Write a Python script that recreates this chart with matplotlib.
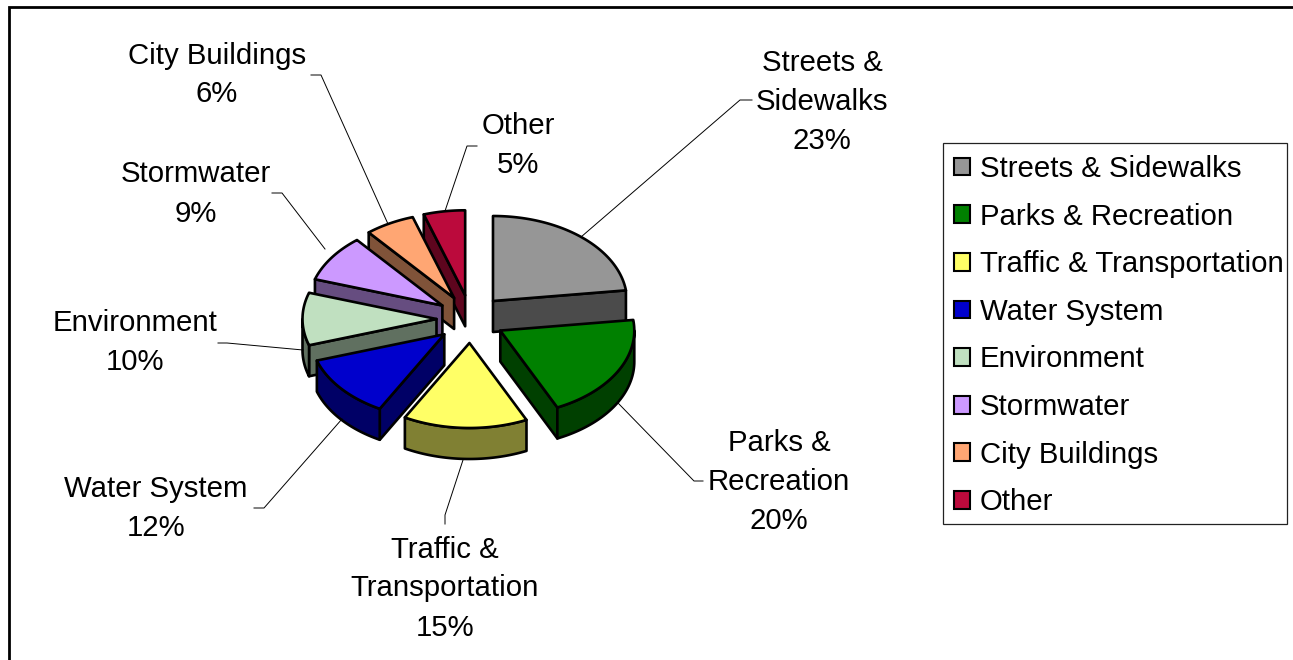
import numpy as np
import matplotlib
matplotlib.use("Agg")
import matplotlib.pyplot as plt
from matplotlib.patches import Polygon, Patch, Rectangle

plt.rcParams['font.family'] = ['Liberation Sans', 'DejaVu Sans']

categories = ["Streets & Sidewalks", "Parks & Recreation", "Traffic & Transportation",
              "Water System", "Environment", "Stormwater", "City Buildings", "Other"]
percents = [23, 20, 15, 12, 10, 9, 6, 5]
label_texts = ["Streets &\nSidewalks\n23%", "Parks &\nRecreation\n20%", "Traffic &\nTransportation\n15%",
               "Water System\n12%", "Environment\n10%", "Stormwater\n9%", "City Buildings\n6%", "Other\n5%"]
top_colors = ["#969696", "#008000", "#FFFF66", "#0000CC", "#C0E0C0", "#CC99FF", "#FFA673", "#BB0A3C"]
side_colors = ["#4B4B4B", "#004000", "#808033", "#000066", "#607060", "#664D80", "#805339", "#5E051E"]
label_pos = [(822, 102), (779, 482), (445, 588.5), (156, 508.5), (135, 342.5), (196, 194), (217, 75), (518, 145.5)]
leaders = [
    [(752, 100), (740, 100), (581, 237)],
    [(703, 481), (694, 481), (618, 403)],
    [(445, 524), (445, 515), (463, 460)],
    [(254, 508), (264, 508), (342, 419)],
    [(218, 343), (227, 343), (303, 350)],
    [(272, 193), (282, 193), (325, 249)],
    [(311, 75), (321, 75), (388, 224)],
    [(477, 146), (467, 146), (445, 211)],
]

CX, CY = 470.5, 319
RX, RY = 134, 85
EX, EY = 34, 24
DEPTH = 31
FS = 21.2

fig = plt.figure(figsize=(12.93, 6.60), dpi=100)
ax = fig.add_axes([0, 0, 1, 1])
ax.set_xlim(0, 1293)
ax.set_ylim(660, 0)
ax.axis("off")

# chart frame (right and bottom edges fall outside the picture)
ax.plot([9, 9, 1293], [660, 7, 7], color="black", lw=2.0, solid_joinstyle="miter")


def slice_faces(start_pct, pct):
    a0 = np.radians(start_pct * 3.6)
    a1 = np.radians((start_pct + pct) * 3.6)
    mid = (a0 + a1) / 2
    ox = CX + EX * np.sin(mid)
    oy = CY - EY * np.cos(mid)
    pt = lambda a: (ox + RX * np.sin(a), oy - RY * np.cos(a))
    return a0, a1, mid, ox, oy, pt


def radial_wall_visible(ox, oy, edge, inner):
    # wall seen when the slice interior lies on the other side of the edge from "down"
    ex, ey = edge[0] - ox, edge[1] - oy
    ix, iy = inner[0] - ox, inner[1] - oy
    return (ex * iy - ey * ix) * (ex * DEPTH) < 0


slices = []
start = 0
for i, p in enumerate(percents):
    slices.append((i, start, p))
    start += p
slices.sort(key=lambda s: slice_faces(s[1], s[2])[4])

edge = dict(edgecolor="black", lw=1.9, joinstyle="round")
for i, st, p in slices:
    a0, a1, mid, ox, oy, pt = slice_faces(st, p)
    pm = pt(mid)
    for a in (a0, a1):
        e = pt(a)
        if radial_wall_visible(ox, oy, e, pm):
            quad = [(ox, oy), e, (e[0], e[1] + DEPTH), (ox, oy + DEPTH)]
            ax.add_patch(Polygon(quad, closed=True, facecolor=side_colors[i], **edge))
    lo, hi = max(a0, np.pi / 2), min(a1, 3 * np.pi / 2)
    if hi > lo:
        t = np.linspace(lo, hi, 60)
        up = [pt(v) for v in t]
        down = [(x, y + DEPTH) for x, y in up][::-1]
        ax.add_patch(Polygon(up + down, closed=True, facecolor=side_colors[i], **edge))
    t = np.linspace(a0, a1, 80)
    ax.add_patch(Polygon([(ox, oy)] + [pt(v) for v in t], closed=True,
                         facecolor=top_colors[i], **edge))

for pts in leaders:
    xs, ys = zip(*pts)
    ax.plot(xs, ys, color="black", lw=0.7, solid_joinstyle="miter")

for txt, (x, y) in zip(label_texts, label_pos):
    ax.text(x, y, txt, ha="center", va="center", fontsize=FS, color="black", linespacing=1.5)

ax.add_patch(Rectangle((943, 143), 344, 381, facecolor="white", edgecolor="#222222", lw=0.9, zorder=4))
handles = [Patch(facecolor=c, edgecolor="black", lw=1.5) for c in top_colors]
leg = ax.legend(handles, categories, loc="upper left", bbox_to_anchor=(954 / 1293, 1 - 155 / 660),
                bbox_transform=ax.transAxes, fontsize=FS, frameon=False, borderaxespad=0, borderpad=0,
                handlelength=0.55, handleheight=0.55, handletextpad=0.32, labelspacing=0.666)
leg.set_zorder(5)

fig.savefig("out.png", dpi=100)
